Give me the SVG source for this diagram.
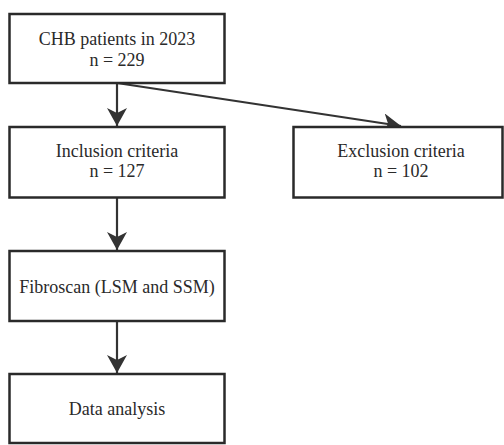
<svg xmlns="http://www.w3.org/2000/svg" width="504" height="445" viewBox="0 0 504 445">
<style>
.box{fill:#fff;stroke:#2a2a2a;stroke-width:2.5}
.t{font-family:"Liberation Serif","Times New Roman",serif;font-size:18px;fill:#2a2a2a;text-anchor:middle}
.c{stroke:#333;stroke-width:2.2;fill:none}
</style>
<defs>
<marker id="ah" viewBox="0 0 18 20" refX="18" refY="10" markerWidth="18" markerHeight="20" markerUnits="userSpaceOnUse" orient="auto">
<path d="M0,0 L18,10 L0,20 L5,10 z" fill="#333"/>
</marker>
</defs>
<rect width="504" height="445" fill="#fff"/>
<g id="connectors">
<line class="c" x1="117" y1="83" x2="117" y2="126" marker-end="url(#ah)"/>
<line class="c" x1="117" y1="83" x2="401" y2="126" marker-end="url(#ah)"/>
<line class="c" x1="117" y1="197" x2="117" y2="250" marker-end="url(#ah)"/>
<line class="c" x1="117" y1="321" x2="117" y2="373" marker-end="url(#ah)"/>
</g>
<g id="n1">
<rect class="box" x="9.5" y="14" width="215" height="69"/>
<text class="t" x="117" y="45">CHB patients in 2023</text>
<text class="t" x="117" y="65.5">n = 229</text>
</g>
<g id="n2">
<rect class="box" x="9.5" y="127" width="215" height="70.5"/>
<text class="t" x="117" y="157">Inclusion criteria</text>
<text class="t" x="117" y="177">n = 127</text>
</g>
<g id="n3">
<rect class="box" x="293.5" y="127" width="209" height="70.5"/>
<text class="t" x="401" y="157">Exclusion criteria</text>
<text class="t" x="401" y="177">n = 102</text>
</g>
<g id="n4">
<rect class="box" x="9.5" y="251" width="215" height="70"/>
<text class="t" x="117" y="293">Fibroscan (LSM and SSM)</text>
</g>
<g id="n5">
<rect class="box" x="9.5" y="374" width="215" height="69"/>
<text class="t" x="117" y="415">Data analysis</text>
</g>
</svg>
